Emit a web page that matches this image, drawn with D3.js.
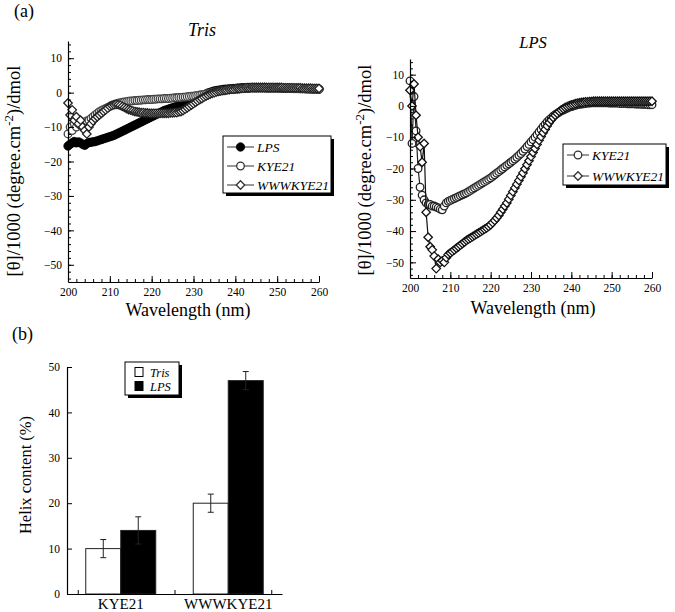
<!DOCTYPE html>
<html><head><meta charset="utf-8">
<script src="https://cdn.jsdelivr.net/npm/d3@7"></script>
<style>body{margin:0;background:#fff}</style>
</head><body>
<svg id="c" width="675" height="612"></svg>
<script>
// ---------- DATA ----------
const wlStart = 200, wlStep = 0.5, wlEnd = 260;
const wavelengths = d3.range(wlStart, wlEnd + wlStep / 2, wlStep);

// (a) Tris panel
const trisLPS = [
 -15.5,-15.0,-14.6,-14.2,-14.6,-14.3,-14.6,-15.0,-15.3,-14.8,
 -14.5,-14.4,-14.3,-14.2,-14.0,-13.8,-13.6,-13.4,-13.2,-13.0,
 -12.8,-12.6,-12.4,-12.1,-11.8,-11.5,-11.2,-10.9,-10.6,-10.3,
 -10.0,-9.7,-9.4,-9.1,-8.8,-8.5,-8.2,-7.9,-7.6,-7.3,
 -7.0,-6.7,-6.4,-6.1,-5.8,-5.5,-5.2,-5.0,-4.8,-4.6,
 -4.4,-4.2,-4.0,-3.8,-3.6,-3.4,-3.2,-3.0,-2.8,-2.5,
 -2.2,-1.9,-1.6,-1.3,-1.0,-0.7,-0.4,-0.1,0.1,0.3,
 0.5,0.6,0.7,0.8,0.9,1.0,1.0,1.1,1.1,1.2,
 1.2,1.3,1.3,1.4,1.4,1.4,1.5,1.5,1.5,1.5,
 1.5,1.5,1.5,1.5,1.5,1.4,1.4,1.4,1.4,1.4,
 1.4,1.4,1.3,1.3,1.3,1.3,1.3,1.3,1.2,1.2,
 1.2,1.2,1.2,1.2,1.1,1.1,1.1,1.1,1.1,1.1,
 1.0];
const trisKYE21 = [
 -12.0,-10.0,-11.0,-9.0,-10.0,-9.0,-9.5,-8.5,-9.0,-8.2,
 -8.0,-7.5,-7.0,-6.5,-6.0,-5.5,-5.2,-4.9,-4.6,-4.3,
 -4.0,-3.7,-3.5,-3.3,-3.1,-2.9,-2.8,-2.7,-2.6,-2.5,
 -2.4,-2.4,-2.3,-2.3,-2.2,-2.2,-2.1,-2.1,-2.0,-2.0,
 -2.0,-1.9,-1.9,-1.8,-1.8,-1.8,-1.7,-1.7,-1.7,-1.6,
 -1.6,-1.5,-1.5,-1.4,-1.4,-1.3,-1.3,-1.2,-1.1,-1.0,
 -1.0,-0.9,-0.8,-0.7,-0.6,-0.5,-0.4,-0.3,-0.1,0.0,
 0.2,0.3,0.4,0.5,0.6,0.7,0.8,0.8,0.9,0.9,
 1.0,1.0,1.1,1.1,1.2,1.2,1.2,1.3,1.3,1.3,
 1.3,1.3,1.3,1.3,1.3,1.3,1.3,1.3,1.3,1.3,
 1.3,1.3,1.2,1.2,1.2,1.2,1.2,1.2,1.2,1.2,
 1.2,1.1,1.1,1.1,1.1,1.1,1.0,1.0,1.0,1.0,
 1.0];
const trisWWWKYE21 = [
 -3.0,-6.5,-5.0,-8.0,-7.0,-9.0,-8.0,-10.0,-11.0,-12.0,
 -10.0,-9.0,-8.2,-7.5,-7.0,-6.5,-6.0,-5.5,-5.0,-4.5,
 -4.0,-3.7,-3.5,-3.4,-3.5,-3.7,-4.0,-4.3,-4.6,-4.9,
 -5.1,-5.3,-5.5,-5.6,-5.7,-5.8,-5.8,-5.9,-5.9,-6.0,
 -6.0,-6.0,-6.0,-6.0,-6.0,-6.0,-6.0,-6.0,-6.0,-5.9,
 -5.9,-5.8,-5.8,-5.6,-5.5,-5.2,-4.8,-4.4,-4.0,-3.6,
 -3.2,-2.8,-2.4,-2.0,-1.7,-1.3,-1.0,-0.7,-0.4,-0.2,
 0.0,0.2,0.4,0.5,0.6,0.7,0.8,0.9,1.0,1.0,
 1.1,1.2,1.2,1.3,1.3,1.4,1.4,1.4,1.5,1.5,
 1.5,1.5,1.5,1.5,1.5,1.5,1.5,1.5,1.5,1.5,
 1.5,1.5,1.5,1.4,1.4,1.4,1.4,1.4,1.4,1.4,
 1.4,1.4,1.3,1.3,1.3,1.3,1.3,1.2,1.2,1.2,
 1.2];

// (a) LPS panel
const lpsKYE21 = [
 8.0,-12.0,3.0,-8.0,-20.0,-26.0,-28.5,-30.0,-31.0,-31.5,
 -31.5,-32.0,-32.0,-32.3,-32.6,-33.0,-33.2,-32.0,-31.0,-30.5,
 -30.2,-29.9,-29.6,-29.3,-29.0,-28.7,-28.4,-28.1,-27.8,-27.4,
 -27.0,-26.6,-26.2,-25.8,-25.4,-25.0,-24.6,-24.2,-23.8,-23.4,
 -23.0,-22.5,-22.0,-21.5,-21.0,-20.5,-20.0,-19.5,-19.0,-18.5,
 -18.0,-17.5,-17.0,-16.4,-15.8,-15.2,-14.5,-13.8,-13.0,-12.3,
 -11.5,-10.8,-10.0,-9.2,-8.3,-7.5,-6.6,-5.9,-5.1,-4.5,
 -3.9,-3.3,-2.8,-2.4,-2.0,-1.6,-1.3,-1.0,-0.7,-0.4,
 -0.2,0.0,0.2,0.4,0.5,0.6,0.7,0.8,0.9,0.9,
 1.0,1.0,1.0,1.0,1.0,1.0,1.0,1.0,1.0,0.9,
 0.9,0.9,0.9,0.9,0.8,0.8,0.8,0.8,0.7,0.7,
 0.7,0.7,0.6,0.6,0.6,0.5,0.5,0.5,0.4,0.4,
 0.4];
const lpsWWWKYE21 = [
 5.0,0.0,7.0,-3.0,-10.0,-13.0,-18.0,-12.0,-34.0,-42.0,
 -45.0,-46.0,-48.0,-52.0,-49.0,-50.0,-49.5,-50.0,-48.5,-47.5,
 -47.0,-46.5,-46.0,-45.5,-45.0,-44.5,-44.0,-43.5,-43.0,-42.6,
 -42.2,-41.8,-41.4,-41.0,-40.6,-40.2,-39.8,-39.4,-39.0,-38.5,
 -38.0,-37.3,-36.6,-35.8,-35.0,-34.0,-33.0,-32.0,-31.0,-29.8,
 -28.6,-27.4,-26.2,-25.0,-23.8,-22.6,-21.4,-20.1,-18.8,-17.5,
 -16.2,-14.9,-13.6,-12.3,-11.0,-9.8,-8.6,-7.5,-6.4,-5.4,
 -4.5,-3.7,-3.0,-2.4,-1.8,-1.3,-0.9,-0.5,-0.2,0.1,
 0.3,0.5,0.7,0.9,1.0,1.1,1.2,1.3,1.3,1.4,
 1.4,1.5,1.5,1.5,1.5,1.5,1.5,1.5,1.5,1.5,
 1.5,1.5,1.5,1.5,1.5,1.5,1.5,1.5,1.5,1.5,
 1.5,1.5,1.5,1.5,1.5,1.5,1.5,1.5,1.5,1.5,
 1.5];

const cdTicksX = [200,210,220,230,240,250,260];
const cdTicksY = [-50,-40,-30,-20,-10,0,10];

// (b) helix content
const helixPeptides = ["KYE21","WWWKYE21"];
const helixConditions = ["Tris","LPS"];
const helixTris = [10, 20];
const helixLPS = [14, 47];
const helixTrisErr = [2, 2];
const helixLPSErr = [3, 2];
const helixTicks = [0,10,20,30,40,50];

// ---------- DRAW ----------
const FONT = "Liberation Serif";
const svg = d3.select("#c");

svg.append("text").attr("x", 14).attr("y", 17).attr("font-size", 18).text("(a)");
svg.append("text").attr("x", 12).attr("y", 340).attr("font-size", 18).text("(b)");

function marker(g, type, x, y, stroke) {
  if (type === "filled") {
    g.append("circle").attr("cx", x).attr("cy", y).attr("r", 4.2)
      .attr("fill", "#000").attr("stroke", "#000").attr("stroke-width", 0.8);
  } else if (type === "circle") {
    g.append("circle").attr("cx", x).attr("cy", y).attr("r", 3.8)
      .attr("fill", "#fff").attr("stroke", stroke || "#222").attr("stroke-width", 1.3);
  } else {
    g.append("path").attr("d", d3.symbol(d3.symbolDiamond2, 46)())
      .attr("transform", `translate(${x},${y})`)
      .attr("fill", "#fff").attr("stroke", stroke || "#111").attr("stroke-width", 1.3);
  }
}

function cdPanel(cfg) {
  const x = d3.scaleLinear().domain([200, 260]).range([cfg.left, cfg.right]);
  const y = d3.scaleLinear().domain([-55, 15]).range([cfg.bottom, cfg.top]);
  const g = svg.append("g");

  g.append("text").attr("x", cfg.titleX).attr("y", cfg.titleY)
    .attr("text-anchor", "middle").attr("font-size", cfg.titleSize).attr("font-style", "italic").text(cfg.title);

  cfg.series.forEach(s => {
    const pts = wavelengths.map((w, i) => [x(w), y(s.values[i])]);
    g.append("path").attr("d", d3.line()(pts)).attr("fill", "none")
      .attr("stroke", s.line).attr("stroke-width", 1.2);
    const mg = g.append("g");
    pts.forEach(p => marker(mg, s.type, p[0], p[1], s.stroke));
  });

  const xa = g.append("g").attr("transform", `translate(0,${cfg.bottom})`)
    .call(d3.axisBottom(x).tickValues(cdTicksX).tickSizeInner(-6).tickSizeOuter(0).tickPadding(6).tickFormat(d3.format("d")));
  g.append("g").attr("transform", `translate(0,${cfg.bottom})`)
    .call(d3.axisBottom(x).tickValues(d3.range(200, 261, 2)).tickSize(-3).tickFormat(""))
    .select(".domain").remove();
  const ya = g.append("g").attr("transform", `translate(${cfg.left},0)`)
    .call(d3.axisLeft(y).tickValues(cdTicksY).tickSizeInner(-6).tickSizeOuter(0).tickPadding(6).tickFormat(d3.format("d")));
  g.append("g").attr("transform", `translate(${cfg.left},0)`)
    .call(d3.axisLeft(y).tickValues(d3.range(-54, 15, 2)).tickSize(-3).tickFormat(""))
    .select(".domain").remove();
  [xa, ya].forEach(a => a.selectAll("text").attr("font-size", 11.5));
  g.selectAll(".domain").attr("stroke", "#000").attr("stroke-width", 1.2);
  g.selectAll(".tick line").attr("stroke", "#000");

  g.append("text").attr("x", cfg.xTitleX).attr("y", cfg.xTitleY).attr("text-anchor", "middle")
    .attr("font-size", 18).text("Wavelength (nm)");
  const yt = g.append("text").attr("transform", `translate(${cfg.yTitleX},${cfg.yTitleY}) rotate(-90)`)
    .attr("text-anchor", "middle").attr("font-size", 18.5);
  yt.append("tspan").text("[θ]/1000 (degree.cm");
  yt.append("tspan").attr("dy", -7).attr("font-size", 13).text("-2");
  yt.append("tspan").attr("dy", 7).text(")/dmol");

  const L = cfg.legend;
  const lg = g.append("g");
  lg.append("rect").attr("x", L.x + 3).attr("y", L.y + 3).attr("width", L.w).attr("height", L.h).attr("fill", "#000");
  lg.append("rect").attr("x", L.x).attr("y", L.y).attr("width", L.w).attr("height", L.h)
    .attr("fill", "#fff").attr("stroke", "#000").attr("stroke-width", 1);
  const order = cfg.legendOrder.map(n => cfg.series.find(s => s.name === n));
  order.forEach((s, i) => {
    const ry = L.y + L.first + i * L.gap;
    lg.append("line").attr("x1", L.x + 4).attr("x2", L.x + 4 + L.lineW).attr("y1", ry).attr("y2", ry)
      .attr("stroke", "#333").attr("stroke-width", 1);
    marker(lg, s.type, L.x + 4 + L.lineW / 2, ry, "#333");
    lg.append("text").attr("x", L.x + 7 + L.lineW).attr("y", ry + 4.5)
      .attr("font-size", 13.5).attr("font-style", "italic").text(s.name);
  });
}

cdPanel({
  left: 68, right: 319, top: 41, bottom: 282,
  title: "Tris", titleX: 202, titleY: 36, titleSize: 18,
  xTitleX: 188, xTitleY: 316, yTitleX: 20, yTitleY: 171,
  series: [
    {name: "LPS", values: trisLPS, type: "filled", line: "#000"},
    {name: "KYE21", values: trisKYE21, type: "circle", stroke: "#444", line: "#444"},
    {name: "WWWKYE21", values: trisWWWKYE21, type: "diamond", stroke: "#222", line: "#222"}
  ],
  legendOrder: ["LPS", "KYE21", "WWWKYE21"],
  legend: {x: 223, y: 136, w: 108, h: 57, first: 11, gap: 19, lineW: 27}
});

cdPanel({
  left: 410, right: 652, top: 59, bottom: 278,
  title: "LPS", titleX: 533, titleY: 48, titleSize: 16.5,
  xTitleX: 533, xTitleY: 314, yTitleX: 371, yTitleY: 170,
  series: [
    {name: "KYE21", values: lpsKYE21, type: "circle", stroke: "#222", line: "#222"},
    {name: "WWWKYE21", values: lpsWWWKYE21, type: "diamond", stroke: "#111", line: "#111"}
  ],
  legendOrder: ["KYE21", "WWWKYE21"],
  legend: {x: 563, y: 144, w: 103, h: 41, first: 11, gap: 21, lineW: 22}
});

// ---------- (b) bar chart ----------
(function () {
  const left = 67, right = 282, top = 367, bottom = 594;
  const x = d3.scaleBand().domain(helixPeptides).range([left, right]);
  const xs = d3.scaleBand().domain(helixConditions).range([0, x.bandwidth()]).paddingOuter(0.536);
  const y = d3.scaleLinear().domain([0, 50]).range([bottom, top]);
  const g = svg.append("g");

  const rows = [];
  helixPeptides.forEach((p, i) => {
    rows.push({p, c: "Tris", v: helixTris[i], e: helixTrisErr[i]});
    rows.push({p, c: "LPS", v: helixLPS[i], e: helixLPSErr[i]});
  });

  rows.forEach(r => {
    const bx = x(r.p) + xs(r.c);
    const bw = xs.bandwidth();
    g.append("rect").attr("x", bx).attr("y", y(r.v)).attr("width", bw).attr("height", y(0) - y(r.v))
      .attr("fill", r.c === "LPS" ? "#000" : "#fff").attr("stroke", "#222").attr("stroke-width", 1);
    const cx = bx + bw / 2;
    const eg = g.append("g").attr("stroke", "#222").attr("stroke-width", 1);
    eg.append("line").attr("x1", cx).attr("x2", cx).attr("y1", y(r.v - r.e)).attr("y2", y(r.v + r.e));
    eg.append("line").attr("x1", cx - 3).attr("x2", cx + 3).attr("y1", y(r.v + r.e)).attr("y2", y(r.v + r.e));
    eg.append("line").attr("x1", cx - 3).attr("x2", cx + 3).attr("y1", y(r.v - r.e)).attr("y2", y(r.v - r.e));
  });

  const ya = g.append("g").attr("transform", `translate(${left},0)`)
    .call(d3.axisLeft(y).tickValues(helixTicks).tickSizeInner(-5).tickSizeOuter(0).tickPadding(7));
  ya.selectAll("text").attr("font-size", 11.5);
  const xa = g.append("g").attr("transform", `translate(0,${bottom})`)
    .call(d3.axisBottom(x).tickSize(0).tickPadding(4));
  xa.selectAll("text").attr("font-size", 15);
  g.append("g").attr("transform", `translate(0,${bottom})`)
    .call(d3.axisBottom(d3.scaleLinear().domain([0, 2]).range([left, right]))
      .tickValues([0.1, 1, 1.9]).tickSize(-4).tickFormat(""))
    .select(".domain").remove();
  g.selectAll(".domain").attr("stroke", "#000").attr("stroke-width", 1.2);

  g.append("text").attr("transform", `translate(31,475) rotate(-90)`).attr("text-anchor", "middle")
    .attr("font-size", 16.5).text("Helix content (%)");

  const L = {x: 125, y: 362, w: 54, h: 33};
  g.append("rect").attr("x", L.x + 3).attr("y", L.y + 3).attr("width", L.w).attr("height", L.h).attr("fill", "#000");
  g.append("rect").attr("x", L.x).attr("y", L.y).attr("width", L.w).attr("height", L.h)
    .attr("fill", "#fff").attr("stroke", "#000");
  helixConditions.forEach((c, i) => {
    const ry = L.y + 10 + i * 14;
    g.append("rect").attr("x", L.x + 10).attr("y", ry - 4.5).attr("width", 8).attr("height", 9)
      .attr("fill", c === "LPS" ? "#000" : "#fff").attr("stroke", "#000");
    g.append("text").attr("x", L.x + 25).attr("y", ry + 4.5).attr("font-size", 12.5)
      .attr("font-style", "italic").text(c);
  });
})();

// make every text use the serif face
svg.selectAll("g").attr("font-family", FONT);
svg.selectAll("text").attr("font-family", FONT).attr("fill", "#000");
</script>
</body></html>
